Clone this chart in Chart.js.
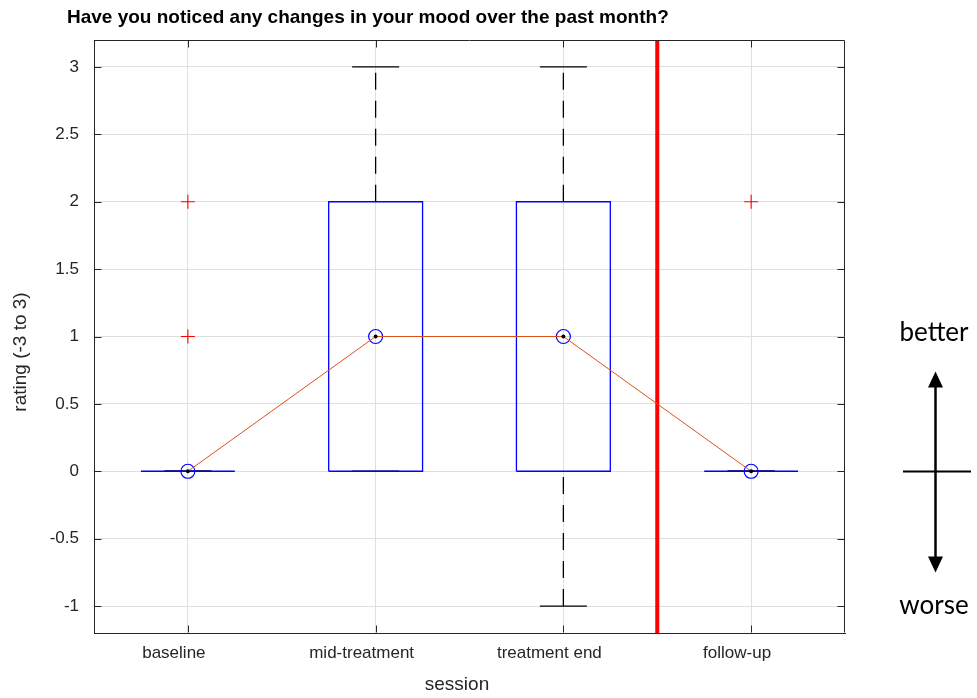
<!DOCTYPE html>
<html>
<head>
<meta charset="utf-8">
<script src="https://cdn.jsdelivr.net/npm/chart.js@4.4.0/dist/chart.umd.min.js"></script>
<style>
  html, body { margin: 0; padding: 0; background: #fff; }
  #wrap { position: relative; width: 977px; height: 698px; }
</style>
</head>
<body>
<div id="wrap"><canvas id="moodChart"></canvas></div>
<script>
const sessions = ['baseline', 'mid-treatment', 'treatment end', 'follow-up'];
const q1 = [0, 0, 0, 0];
const q3 = [0, 2, 2, 0];
const medians = [0, 1, 1, 0];
const whiskerLow = [0, 0, -1, 0];
const whiskerHigh = [0, 3, 3, 0];
const outliers = [[2, 1], [], [], [2]];
const yTicks = [-1, -0.5, 0, 0.5, 1, 1.5, 2, 2.5, 3];
const yMin = -1.2;
const yMax = 3.2;
const treatmentStop = 3.5; // red line between treatment end and follow-up

const titleText = 'Have you noticed any changes in your mood over the past month?';
const xTitle = 'session';
const yTitle = 'rating (-3 to 3)';

const axisColor = '#262626';
const gridColor = '#dfdfdf';
const boxBlue = '#0000ff';
const lineOrange = '#d95319';
const boxHalf = 0.25;
const capPx = 23.5;
const font = 'Liberation Sans';

// build the box plot pieces out of the arrays above
const boxPts = [];
const whiskerPts = [];
const capPts = [];
const outlierPts = [];
sessions.forEach((s, i) => {
  const x = i + 1;
  boxPts.push(
    {x: x - boxHalf, y: q1[i]}, {x: x + boxHalf, y: q1[i]},
    {x: x + boxHalf, y: q3[i]}, {x: x - boxHalf, y: q3[i]},
    {x: x - boxHalf, y: q1[i]}, {x: x, y: null}
  );
  // whiskers go bottom -> top so the dash pattern starts at the lower end
  if (whiskerHigh[i] > q3[i]) whiskerPts.push({x, y: q3[i]}, {x, y: whiskerHigh[i]}, {x, y: null});
  if (whiskerLow[i] < q1[i]) whiskerPts.push({x, y: whiskerLow[i]}, {x, y: q1[i]}, {x, y: null});
  capPts.push({x, y: whiskerLow[i]}, {x, y: whiskerHigh[i]});
  outliers[i].forEach(v => outlierPts.push({x, y: v}));
});
const medianPts = medians.map((v, i) => ({x: i + 1, y: v}));

// axis frame, inward ticks, titles and the better/worse arrow
const decor = {
  id: 'decor',
  afterDraw(chart) {
    const {ctx, chartArea: a, scales: {x, y}} = chart;
    const L = Math.round(a.left) + 0.5, R = Math.round(a.right) - 0.5;
    const T = Math.round(a.top) + 0.5, B = Math.round(a.bottom) - 0.5;
    ctx.save();
    ctx.strokeStyle = axisColor;
    ctx.lineWidth = 1;
    ctx.beginPath();
    ctx.moveTo(L, T); ctx.lineTo(R, T); ctx.lineTo(R, B);
    yTicks.forEach(v => {
      const p = Math.round(y.getPixelForValue(v)) + 0.5;
      ctx.moveTo(L, p); ctx.lineTo(L + 7, p);
      ctx.moveTo(R, p); ctx.lineTo(R - 7, p);
    });
    sessions.forEach((s, i) => {
      const p = Math.round(x.getPixelForValue(i + 1)) + 0.5;
      ctx.moveTo(p, B); ctx.lineTo(p, B - 7);
      ctx.moveTo(p, T); ctx.lineTo(p, T + 7);
    });
    ctx.stroke();

    ctx.fillStyle = '#000';
    ctx.font = 'bold 19px "' + font + '"';
    ctx.textAlign = 'left';
    ctx.textBaseline = 'alphabetic';
    ctx.fillText(titleText, 67, 23);

    ctx.fillStyle = axisColor;
    ctx.font = '19px "' + font + '"';
    ctx.textAlign = 'center';
    ctx.fillText(xTitle, 457, 690);
    ctx.save();
    ctx.translate(26, 352);
    ctx.rotate(-Math.PI / 2);
    ctx.fillText(yTitle, 0, 0);
    ctx.restore();

    // better / worse arrow
    const zero = Math.round(y.getPixelForValue(0)) + 0.5;
    const ax = 935.5;
    ctx.fillStyle = '#000';
    ctx.strokeStyle = '#000';
    ctx.font = '26px Lato';
    ctx.textBaseline = 'middle';
    ctx.fillText('better', 934, 333);
    ctx.fillText('worse', 934, 606);
    ctx.lineWidth = 2.5;
    ctx.beginPath();
    ctx.moveTo(ax, zero - 86); ctx.lineTo(ax, zero + 87);
    ctx.stroke();
    ctx.lineWidth = 2;
    ctx.beginPath();
    ctx.moveTo(903, zero); ctx.lineTo(971, zero);
    ctx.stroke();
    ctx.beginPath();
    ctx.moveTo(ax, zero - 100); ctx.lineTo(ax - 7.5, zero - 84); ctx.lineTo(ax + 7.5, zero - 84);
    ctx.closePath();
    ctx.moveTo(ax, zero + 101); ctx.lineTo(ax - 7.5, zero + 85); ctx.lineTo(ax + 7.5, zero + 85);
    ctx.closePath();
    ctx.fill();
    ctx.restore();
  }
};

const line = {pointRadius: 0, tension: 0, spanGaps: false, fill: false};

const config = {
  type: 'line',
  data: {
    datasets: [
      {...line, data: capPts, showLine: false, pointStyle: 'line', pointRadius: capPx,
        pointBorderColor: '#000', pointBorderWidth: 1.3, order: 8},
      {...line, data: whiskerPts, borderColor: '#000', borderWidth: 1.3, borderDash: [17, 11], order: 7},
      {...line, data: boxPts, borderColor: boxBlue, borderWidth: 1.3, order: 6},
      {...line, data: outlierPts, showLine: false, pointStyle: 'cross', pointRadius: 7,
        pointBorderColor: '#ff0000', pointBorderWidth: 1.1, order: 5},
      {...line, data: [{x: treatmentStop, y: yMin}, {x: treatmentStop, y: yMax}],
        borderColor: '#ff0000', borderWidth: 4, order: 4},
      {...line, data: medianPts, showLine: false, pointStyle: 'circle', pointRadius: 7,
        pointBorderColor: boxBlue, pointBackgroundColor: 'rgba(0,0,0,0)', pointBorderWidth: 1.2, order: 3},
      {...line, data: medianPts, borderColor: lineOrange, borderWidth: 1, order: 2},
      {...line, data: medianPts, showLine: false, pointStyle: 'circle', pointRadius: 2,
        pointBackgroundColor: '#000', pointBorderWidth: 0, order: 1}
    ]
  },
  options: {
    responsive: true,
    maintainAspectRatio: false,
    animation: false,
    layout: { padding: {left: 0, top: 40, right: 132, bottom: 0} },
    plugins: { legend: {display: false}, tooltip: {enabled: false}, title: {display: false} },
    scales: {
      x: {
        type: 'linear',
        min: 0.5,
        max: 4.5,
        afterBuildTicks: s => { s.ticks = sessions.map((_, i) => ({value: i + 1})); },
        afterFit: s => { s.height = 65; },
        grid: { color: gridColor, drawTicks: false },
        border: { color: axisColor, width: 1 },
        ticks: {
          callback: v => sessions[v - 1],
          color: axisColor,
          font: {family: font, size: 17},
          padding: 10,
          labelOffset: -14,
          maxRotation: 0,
          autoSkip: false
        }
      },
      y: {
        type: 'linear',
        min: yMin,
        max: yMax,
        afterBuildTicks: s => { s.ticks = yTicks.map(v => ({value: v})); },
        afterFit: s => { s.width = 94; },
        grid: { color: gridColor, drawTicks: false },
        border: { color: axisColor, width: 1 },
        ticks: {
          callback: v => String(v),
          color: axisColor,
          font: {family: font, size: 17},
          padding: 15,
          autoSkip: false
        }
      }
    }
  },
  plugins: [decor]
};

const moodChart = new Chart(document.getElementById('moodChart'), config);
</script>
</body>
</html>
